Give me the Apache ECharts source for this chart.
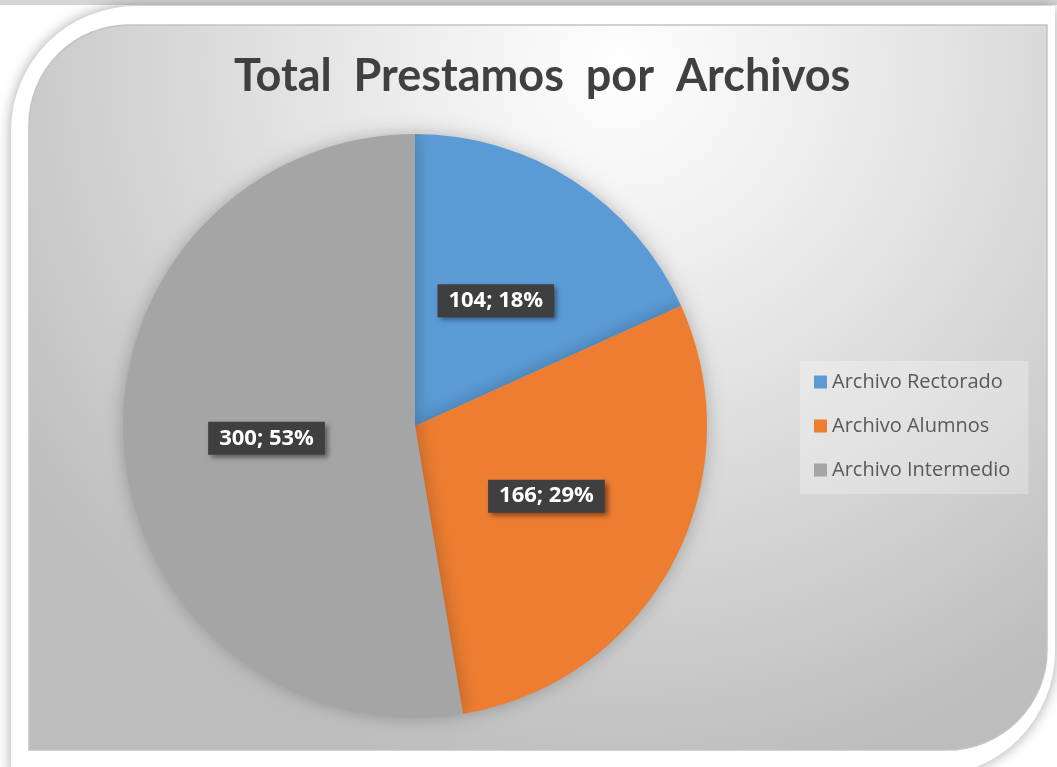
<!DOCTYPE html>
<html>
<head>
<meta charset="utf-8">
<script src="https://cdn.jsdelivr.net/npm/echarts@6/dist/echarts.min.js"></script>
<style>
  html, body { margin: 0; padding: 0; background: #fff; }
  #chart { width: 1057px; height: 767px; }
</style>
</head>
<body>
<div id="chart"></div>
<script>
const titleText = "Total  Prestamos  por  Archivos";
const categories = ["Archivo Rectorado", "Archivo Alumnos", "Archivo Intermedio"];
const values = [104, 166, 300];
const colors = ["#5B9BD5", "#ED7D31", "#A5A5A5"];

const myChart = echarts.init(document.getElementById("chart"));

myChart.setOption({
  backgroundColor: "#ffffff",
  animation: false,
  graphic: [
    {
      type: "rect",
      z: -10,
      shape: { x: 0, y: 0, width: 1057, height: 5 },
      style: { fill: "#d6d6d6" },
    },
    {
      type: "rect",
      z: -9,
      shape: { x: 11, y: 6, width: 1044, height: 770, r: [125, 0, 125, 0] },
      style: {
        fill: "#ffffff",
        shadowBlur: 14,
        shadowColor: "rgba(0,0,0,0.35)",
      },
    },
    {
      type: "rect",
      z: -8,
      shape: { x: 29, y: 25, width: 1018, height: 725, r: [100, 0, 100, 0] },
      style: {
        fill: new echarts.graphic.RadialGradient(0.58, 0.06, 1.0, [
          { offset: 0, color: "#ffffff" },
          { offset: 0.45, color: "#e3e3e3" },
          { offset: 1, color: "#bdbdbd" },
        ]),
        stroke: "#c4c4c4",
        lineWidth: 1.5,
      },
    },
  ],
  title: {
    text: titleText,
    left: 229,
    top: 49,
    textStyle: {
      fontFamily: "Lato",
      fontWeight: "bold",
      fontSize: 45,
      color: "#404040",
    },
  },
  legend: {
    orient: "vertical",
    left: 800,
    top: 361,
    data: categories,
    icon: "rect",
    itemWidth: 13,
    itemHeight: 13,
    itemGap: 24,
    padding: [11, 18, 14, 14],
    backgroundColor: "rgba(255,255,255,0.28)",
    textStyle: {
      fontFamily: "Open Sans",
      fontSize: 20,
      color: "#595959",
    },
  },
  series: [
    {
      type: "pie",
      center: [415, 426],
      radius: 292,
      startAngle: 90,
      clockwise: true,
      percentPrecision: 0,
      avoidLabelOverlap: false,
      color: colors,
      data: categories.map((name, i) => ({ name: name, value: values[i] })),
      itemStyle: {
        shadowBlur: 18,
        shadowColor: "rgba(0,0,0,0.25)",
      },
      label: {
        show: true,
        position: "inside",
        formatter: "{c}; {d}%",
        fontFamily: "Open Sans",
        fontWeight: "bold",
        fontSize: 22,
        color: "#ffffff",
        backgroundColor: "#3f3f3f",
        padding: [6, 11, 5, 11],
        shadowBlur: 5,
        shadowColor: "rgba(0,0,0,0.45)",
        shadowOffsetX: 3,
        shadowOffsetY: 3,
      },
      labelLine: { show: false },
      emphasis: { disabled: true },
    },
  ],
});
</script>
</body>
</html>
